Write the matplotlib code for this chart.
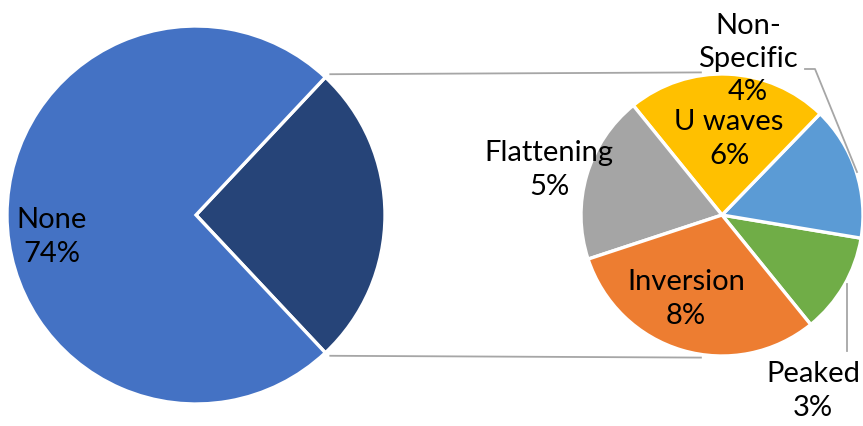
import numpy as np
import matplotlib.pyplot as plt

# main split: everything that shows a change is pulled out into the second pie
main_labels = ["Changed", "None"]
main_values = [26, 74]

# breakdown of the 26%, counter-clockwise from the lower right
detail_labels = ["Peaked", "Non-Specific", "U waves", "Flattening", "Inversion"]
detail_values = [3, 4, 6, 5, 8]

W, H = 863, 426
plt.rcParams["font.family"] = ["Lato", "DejaVu Sans"]

main_colors = ["#264478", "#4472C4"]
detail_colors = ["#70AD47", "#5B9BD5", "#FFC000", "#A5A5A5", "#ED7D31"]


def px(x, y):
    # pixel position (origin top-left) -> data coords
    return x, H - y


fig = plt.figure(figsize=(W / 100, H / 100), dpi=100)
ax = fig.add_axes([0, 0, 1, 1])

main_c = px(196, 215)
main_r = 189
split = main_values[0] / sum(main_values) * 360
ax.pie(main_values, colors=main_colors, startangle=-split / 2, counterclock=True,
       center=main_c, radius=main_r, frame=True,
       wedgeprops={"edgecolor": "white", "linewidth": 2.4})

sec_c = px(722, 215)
sec_r = 141
ax.pie(detail_values, colors=detail_colors, startangle=-51, counterclock=True,
       center=sec_c, radius=sec_r, frame=True,
       wedgeprops={"edgecolor": "white", "linewidth": 2.4})

# connector lines from the split edge of the big pie to the small one
a = np.deg2rad(split / 2)
for sgn in (1, -1):
    x0 = main_c[0] + main_r * np.cos(a) + 4
    y0 = main_c[1] + sgn * (main_r * np.sin(a) + 3)
    b = np.deg2rad(98)
    x1 = sec_c[0] + (sec_r + 4) * np.cos(b)
    y1 = sec_c[1] + sgn * (sec_r + 3) * np.sin(b)
    ax.plot([x0, x1], [y0, y1], color="#A6A6A6", lw=1.3, solid_capstyle="butt")

fs = 21
txt = dict(ha="center", va="center", fontsize=fs, color="black", linespacing=1.35)
total = sum(main_values)
ax.text(*px(52, 237), f"None\n{main_values[1] / total:.0%}", **txt)

label_pos = {
    "Peaked": (813, 391),
    "Non-Specific": (748, 59),
    "U waves": (729, 139),
    "Flattening": (549, 170),
    "Inversion": (686, 299),
}
for name, val in zip(detail_labels, detail_values):
    shown = "Non-\nSpecific" if name == "Non-Specific" else name
    ax.text(*px(*label_pos[name]), f"{shown}\n{val / total:.0%}", **txt)

# leader lines for the two labels sitting outside the pie
ax.plot(*zip(px(847, 284), px(847, 351)), color="#A6A6A6", lw=1.3)
ax.plot(*zip(px(805, 69), px(815, 69), px(857, 172)), color="#A6A6A6", lw=1.3)

ax.set_xlim(0, W)
ax.set_ylim(0, H)
ax.set_aspect("equal")
ax.axis("off")

fig.savefig("out.png", dpi=100)
